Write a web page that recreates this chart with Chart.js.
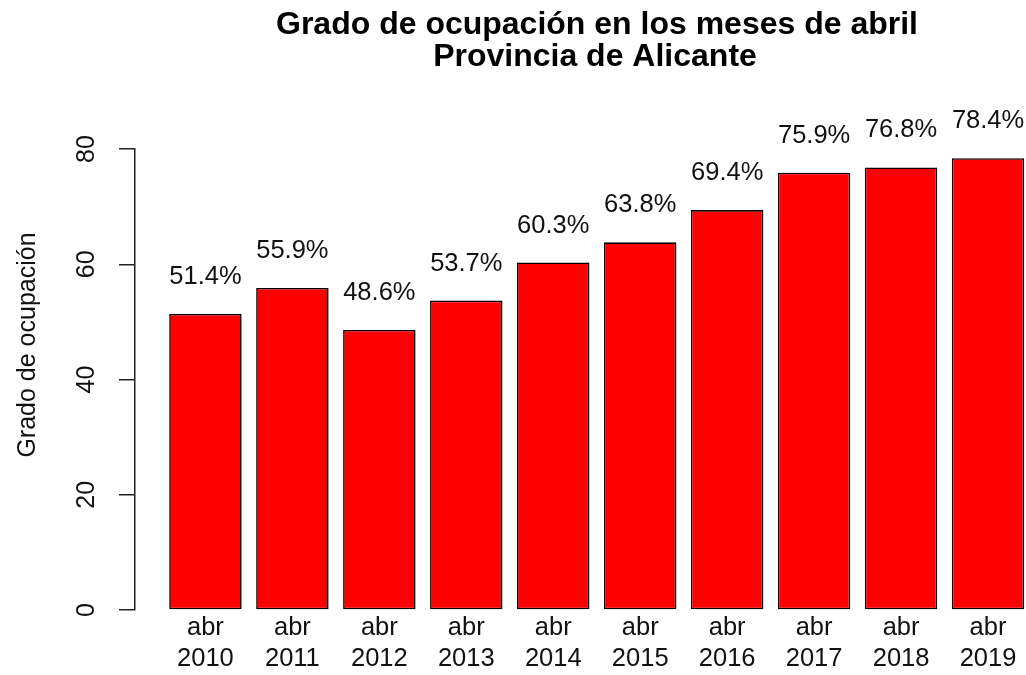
<!DOCTYPE html>
<html>
<head>
<meta charset="utf-8">
<script src="https://cdn.jsdelivr.net/npm/chart.js@4.4.0/dist/chart.umd.min.js"></script>
<style>
  html, body { margin: 0; padding: 0; background: #ffffff; }
  #wrap { width: 1026px; height: 675px; position: relative; }
</style>
</head>
<body>
<div id="wrap"><canvas id="c" width="1026" height="675"></canvas></div>
<script>
// ---- Data ----
const titleLines = ['Grado de ocupación en los meses de abril', 'Provincia de Alicante'];
const yAxisTitle = 'Grado de ocupación';
const categories = ['abr 2010', 'abr 2011', 'abr 2012', 'abr 2013', 'abr 2014',
                    'abr 2015', 'abr 2016', 'abr 2017', 'abr 2018', 'abr 2019'];
const occupancy = [51.4, 55.9, 48.6, 53.7, 60.3, 63.8, 69.4, 75.9, 76.8, 78.4];
const yTicks = [0, 20, 40, 60, 80];

// R barplot layout: bar width 1, space 0.2 -> midpoints at 0.7, 1.9, ...
const barWidth = 1, barSpace = 0.2;
const mids = categories.map((_, i) => barSpace + barWidth / 2 + i * (barWidth + barSpace));

const FONT = "'Liberation Sans', Arial, sans-serif";

const overlay = {
  id: 'overlay',
  afterDatasetsDraw(chart) {
    const ctx = chart.ctx;
    const meta = chart.getDatasetMeta(0);
    ctx.save();
    ctx.fillStyle = '#111';
    ctx.font = '25.5px ' + FONT;
    ctx.textAlign = 'center';
    ctx.textBaseline = 'alphabetic';
    meta.data.forEach((bar, i) => {
      ctx.fillText(occupancy[i].toFixed(1) + '%', bar.x, bar.y - 30);
    });
    ctx.restore();
  },
  afterDraw(chart) {
    const ctx = chart.ctx;
    ctx.save();
    ctx.fillStyle = '#000';
    // main title
    ctx.font = 'bold 32px ' + FONT;
    ctx.textAlign = 'center';
    ctx.textBaseline = 'alphabetic';
    ctx.fillText(titleLines[0], 597, 34);
    ctx.fillText(titleLines[1], 595, 66);
    // y-axis title
    ctx.fillStyle = '#111';
    ctx.font = '25px ' + FONT;
    ctx.translate(35, 345);
    ctx.rotate(-Math.PI / 2);
    ctx.fillText(yAxisTitle, 0, 0);
    ctx.restore();
  }
};

new Chart(document.getElementById('c'), {
  type: 'bar',
  data: {
    datasets: [{
      data: occupancy.map((v, i) => ({ x: mids[i], y: v })),
      backgroundColor: '#ff0000',
      borderColor: '#000000',
      borderWidth: 1.6,
      borderSkipped: false,
      categoryPercentage: 1,
      barPercentage: barWidth / (barWidth + barSpace)
    }]
  },
  options: {
    responsive: false,
    animation: false,
    layout: { padding: { top: 149, left: 0, right: 0, bottom: 0 } },
    plugins: { legend: { display: false }, title: { display: false }, tooltip: { enabled: false } },
    scales: {
      x: {
        type: 'linear',
        offset: false,
        min: -0.272,
        max: 12.024,
        grid: { display: false, drawTicks: false },
        border: { display: false },
        afterBuildTicks(scale) { scale.ticks = mids.map(v => ({ value: v })); },
        afterFit(scale) { scale.height = 65; },
        ticks: {
          autoSkip: false,
          maxRotation: 0,
          minRotation: 0,
          padding: 2,
          color: '#111',
          font: { family: FONT, size: 25.5, lineHeight: 31 / 25.5 },
          callback: (value, index) => categories[index].split(' ')
        }
      },
      y: {
        min: 0,
        max: 80,
        afterBuildTicks(scale) { scale.ticks = yTicks.map(v => ({ value: v })); },
        afterFit(scale) { scale.width = 135; },
        grid: { display: true, drawOnChartArea: false, drawTicks: true, tickLength: 16, color: '#222', lineWidth: 1.5 },
        border: { display: true, color: '#222', width: 1.5 },
        ticks: {
          minRotation: 90,
          maxRotation: 90,
          crossAlign: 'center',
          padding: 18,
          color: '#111',
          font: { family: FONT, size: 25 }
        }
      }
    }
  },
  plugins: [overlay]
});
</script>
</body>
</html>
